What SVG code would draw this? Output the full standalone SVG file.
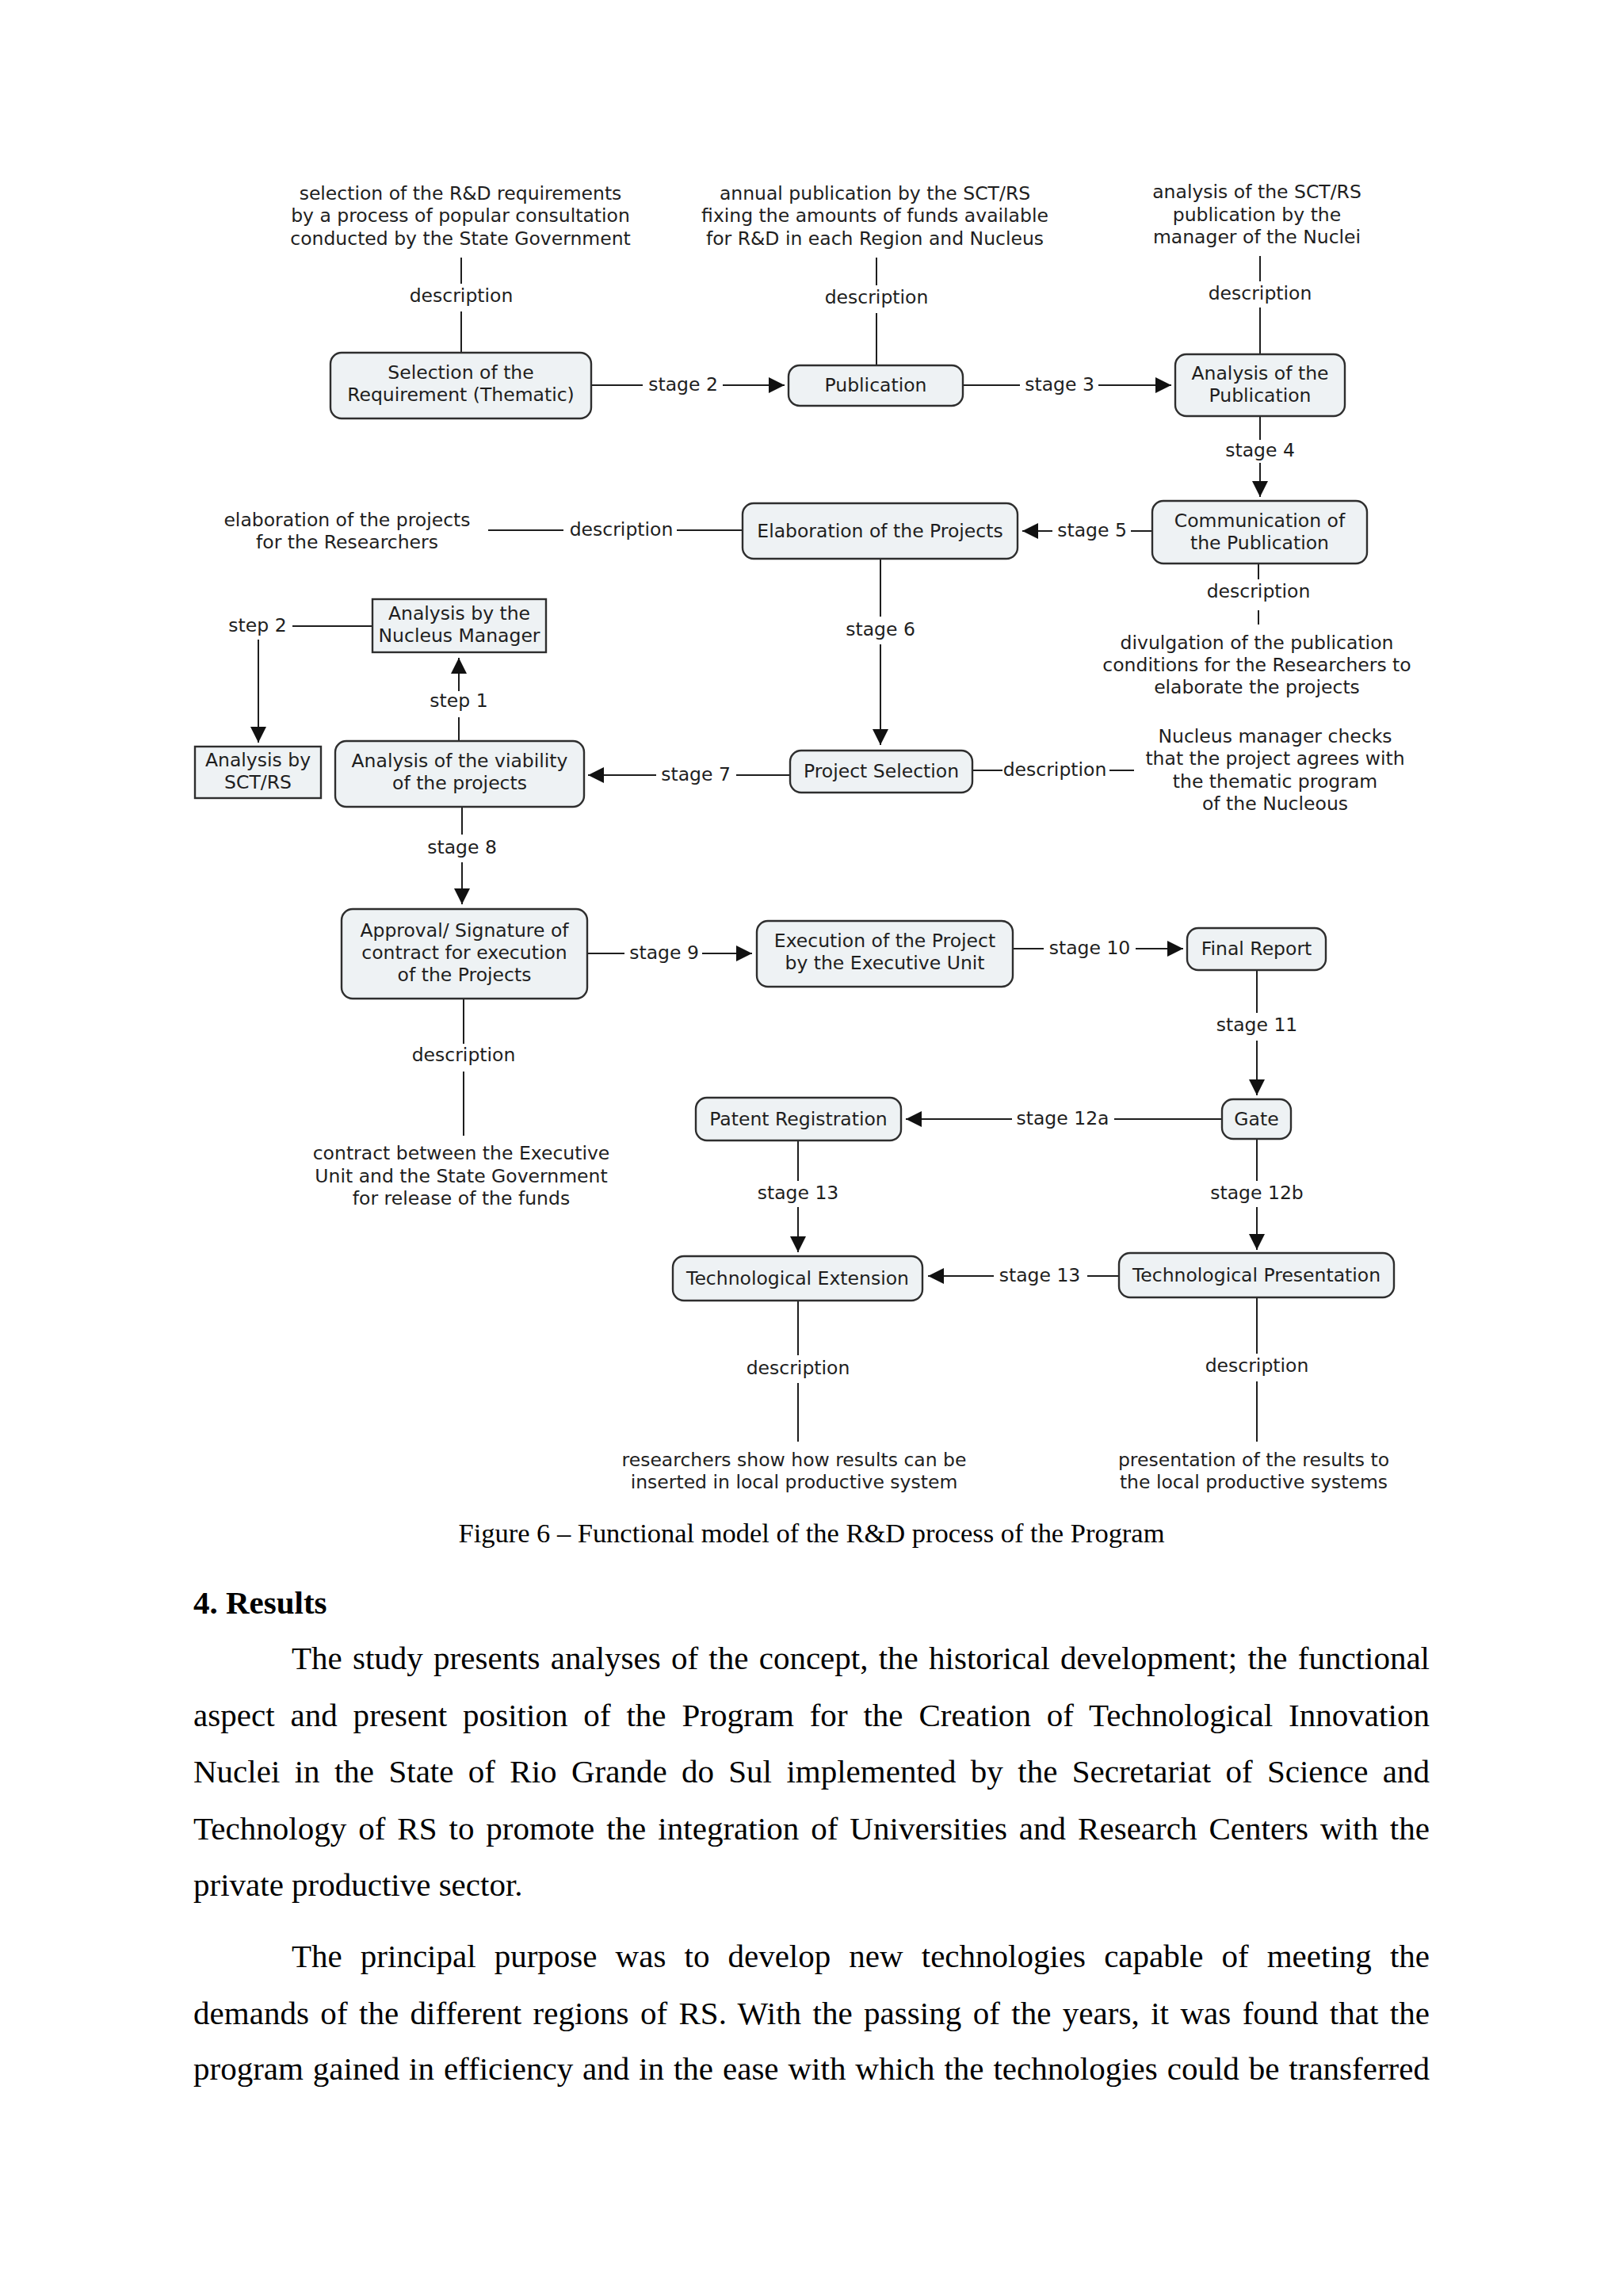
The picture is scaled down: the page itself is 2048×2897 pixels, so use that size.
<svg xmlns="http://www.w3.org/2000/svg" width="2048" height="2897" viewBox="0 0 2048 2897">
<defs>
<style>
.n rect{fill:#eef2f4;stroke:#2e2e2e;stroke-width:2.4}
.t{font-family:"DejaVu Sans",Verdana,sans-serif;font-size:23.5px;fill:#1e1e1e;text-anchor:middle}
.c line{stroke:#1e1e1e;stroke-width:2;fill:none}
.c line.a{marker-end:url(#ah)}
.body{font-family:"Liberation Serif","Times New Roman",serif;font-size:41px;fill:#000}
</style>
<marker id="ah" markerUnits="userSpaceOnUse" markerWidth="20" markerHeight="20" refX="20" refY="10" orient="auto">
<path d="M0,0 L20,10 L0,20 z" fill="#111"/>
</marker>
</defs>
<rect width="2048" height="2897" fill="#fff"/>

<g id="connectors" class="c">
<line x1="582" y1="325" x2="582" y2="358"/><line x1="582" y1="393" x2="582" y2="445"/>
<line x1="1106" y1="325" x2="1106" y2="360"/><line x1="1106" y1="395" x2="1106" y2="461"/>
<line x1="1590" y1="323" x2="1590" y2="355"/><line x1="1590" y1="388" x2="1590" y2="447"/>
<line x1="746" y1="486" x2="811" y2="486"/><line class="a" x1="912" y1="486" x2="990" y2="486"/>
<line x1="1215" y1="486" x2="1287" y2="486"/><line class="a" x1="1386" y1="486" x2="1478" y2="486"/>
<line x1="1590" y1="525" x2="1590" y2="555"/><line class="a" x1="1590" y1="584" x2="1590" y2="627"/>
<line x1="1454" y1="670" x2="1427" y2="670"/><line class="a" x1="1328" y1="670" x2="1290" y2="670"/>
<line x1="937" y1="669" x2="854" y2="669"/><line x1="711" y1="669" x2="616" y2="669"/>
<line x1="1588" y1="711" x2="1588" y2="731"/><line x1="1588" y1="770" x2="1588" y2="788"/>
<line x1="1111" y1="705" x2="1111" y2="778"/><line class="a" x1="1111" y1="813" x2="1111" y2="940"/>
<line x1="1227" y1="972" x2="1265" y2="972"/><line x1="1400" y1="972" x2="1431" y2="972"/>
<line x1="997" y1="978" x2="929" y2="978"/><line class="a" x1="828" y1="978" x2="742" y2="978"/>
<line x1="579" y1="935" x2="579" y2="905"/><line class="a" x1="579" y1="872" x2="579" y2="830"/>
<line x1="470" y1="790" x2="369" y2="790"/><line class="a" x1="326" y1="807" x2="326" y2="937"/>
<line x1="583" y1="1018" x2="583" y2="1053"/><line class="a" x1="583" y1="1088" x2="583" y2="1141"/>
<line x1="741" y1="1203" x2="788" y2="1203"/><line class="a" x1="886" y1="1203" x2="949" y2="1203"/>
<line x1="1278" y1="1197" x2="1317" y2="1197"/><line class="a" x1="1433" y1="1197" x2="1493" y2="1197"/>
<line x1="1586" y1="1224" x2="1586" y2="1278"/><line class="a" x1="1586" y1="1313" x2="1586" y2="1382"/>
<line x1="1542" y1="1412" x2="1406" y2="1412"/><line class="a" x1="1277" y1="1412" x2="1143" y2="1412"/>
<line x1="1007" y1="1439" x2="1007" y2="1490"/><line class="a" x1="1007" y1="1523" x2="1007" y2="1580"/>
<line x1="1586" y1="1437" x2="1586" y2="1490"/><line class="a" x1="1586" y1="1523" x2="1586" y2="1577"/>
<line x1="1412" y1="1610" x2="1372" y2="1610"/><line class="a" x1="1254" y1="1610" x2="1171" y2="1610"/>
<line x1="1007" y1="1641" x2="1007" y2="1710"/><line x1="1007" y1="1745" x2="1007" y2="1819"/>
<line x1="1586" y1="1637" x2="1586" y2="1708"/><line x1="1586" y1="1743" x2="1586" y2="1819"/>
<line x1="585" y1="1260" x2="585" y2="1317"/><line x1="585" y1="1352" x2="585" y2="1433"/>
<g class="t">
<text x="582" y="381">description</text>
<text x="1106" y="383">description</text>
<text x="1590" y="378">description</text>
<text x="862" y="493">stage 2</text>
<text x="1337" y="493">stage 3</text>
<text x="1590" y="576">stage 4</text>
<text x="1378" y="677">stage 5</text>
<text x="784" y="676">description</text>
<text x="1588" y="754">description</text>
<text x="1111" y="802">stage 6</text>
<text x="1331" y="979">description</text>
<text x="878" y="985">stage 7</text>
<text x="579" y="892">step 1</text>
<text x="325" y="797">step 2</text>
<text x="583" y="1077">stage 8</text>
<text x="838" y="1210">stage 9</text>
<text x="1375" y="1204">stage 10</text>
<text x="1586" y="1301">stage 11</text>
<text x="1341" y="1419">stage 12a</text>
<text x="1007" y="1513">stage 13</text>
<text x="1586" y="1513">stage 12b</text>
<text x="1312" y="1617">stage 13</text>
<text x="1007" y="1734">description</text>
<text x="1586" y="1731">description</text>
<text x="585" y="1339">description</text>
</g>
</g>

<g id="n-selection" class="n"><rect x="417" y="445" width="329" height="83" rx="14"/><text class="t" x="581.5" y="478">Selection of the</text><text class="t" x="581.5" y="506">Requirement (Thematic)</text></g>
<g id="n-publication" class="n"><rect x="995" y="461" width="220" height="51" rx="14"/><text class="t" x="1105" y="494">Publication</text></g>
<g id="n-analysis-publication" class="n"><rect x="1483" y="447" width="214" height="78" rx="14"/><text class="t" x="1590" y="479">Analysis of the</text><text class="t" x="1590" y="507">Publication</text></g>
<g id="n-communication" class="n"><rect x="1454" y="632" width="271" height="79" rx="14"/><text class="t" x="1589.5" y="665">Communication of</text><text class="t" x="1589.5" y="693">the Publication</text></g>
<g id="n-elaboration" class="n"><rect x="937" y="635" width="347" height="70" rx="14"/><text class="t" x="1110.5" y="678">Elaboration of the Projects</text></g>
<g id="n-project-selection" class="n"><rect x="997" y="947" width="230" height="53" rx="14"/><text class="t" x="1112" y="981">Project Selection</text></g>
<g id="n-viability" class="n"><rect x="423" y="935" width="314" height="83" rx="14"/><text class="t" x="580" y="968">Analysis of the viability</text><text class="t" x="580" y="996">of the projects</text></g>
<g id="n-nucleus-manager" class="n"><rect x="470" y="756" width="219" height="67"/><text class="t" x="579.5" y="782">Analysis by the</text><text class="t" x="579.5" y="810">Nucleus Manager</text></g>
<g id="n-sct-rs" class="n"><rect x="246" y="942" width="159" height="65"/><text class="t" x="325.5" y="967">Analysis by</text><text class="t" x="325.5" y="995">SCT/RS</text></g>
<g id="n-approval" class="n"><rect x="431" y="1147" width="310" height="113" rx="14"/><text class="t" x="586" y="1182">Approval/ Signature of</text><text class="t" x="586" y="1210">contract for execution</text><text class="t" x="586" y="1238">of the Projects</text></g>
<g id="n-execution" class="n"><rect x="955" y="1162" width="323" height="83" rx="14"/><text class="t" x="1116.5" y="1195">Execution of the Project</text><text class="t" x="1116.5" y="1223">by the Executive Unit</text></g>
<g id="n-final-report" class="n"><rect x="1498" y="1171" width="175" height="53" rx="14"/><text class="t" x="1585.5" y="1205">Final Report</text></g>
<g id="n-gate" class="n"><rect x="1542" y="1387" width="87" height="50" rx="14"/><text class="t" x="1585.5" y="1420">Gate</text></g>
<g id="n-patent" class="n"><rect x="878" y="1385" width="259" height="54" rx="14"/><text class="t" x="1007.5" y="1420">Patent Registration</text></g>
<g id="n-tech-extension" class="n"><rect x="849" y="1585" width="315" height="56" rx="14"/><text class="t" x="1006.5" y="1621">Technological Extension</text></g>
<g id="n-tech-presentation" class="n"><rect x="1412" y="1581" width="347" height="56" rx="14"/><text class="t" x="1585.5" y="1617">Technological Presentation</text></g>

<g id="d-selection" class="t"><text x="581" y="252">selection of the R&amp;D requirements</text><text x="581" y="280">by a process of popular consultation</text><text x="581" y="309">conducted by the State Government</text></g>
<g id="d-publication" class="t"><text x="1104" y="252">annual publication by the SCT/RS</text><text x="1104" y="280">fixing the amounts of funds available</text><text x="1104" y="309">for R&amp;D in each Region and Nucleus</text></g>
<g id="d-analysis" class="t"><text x="1586" y="250">analysis of the SCT/RS</text><text x="1586" y="279">publication by the</text><text x="1586" y="307">manager of the Nuclei</text></g>
<g id="d-elaboration" class="t"><text x="438" y="664">elaboration of the projects</text><text x="438" y="692">for the Researchers</text></g>
<g id="d-communication" class="t"><text x="1586" y="819">divulgation of the publication</text><text x="1586" y="847">conditions for the Researchers to</text><text x="1586" y="875">elaborate the projects</text></g>
<g id="d-project-selection" class="t"><text x="1609" y="937">Nucleus manager checks</text><text x="1609" y="965">that the project agrees with</text><text x="1609" y="994">the thematic program</text><text x="1609" y="1022">of the Nucleous</text></g>
<g id="d-approval" class="t"><text x="582" y="1463">contract between the Executive</text><text x="582" y="1492">Unit and the State Government</text><text x="582" y="1520">for release of the funds</text></g>
<g id="d-tech-extension" class="t"><text x="1002" y="1850">researchers show how results can be</text><text x="1002" y="1878">inserted in local productive system</text></g>
<g id="d-tech-presentation" class="t"><text x="1582" y="1850">presentation of the results to</text><text x="1582" y="1878">the local productive systems</text></g>

<text x="1024" y="1946" font-family="Liberation Serif,'Times New Roman',serif" font-size="34.5" text-anchor="middle" textLength="891" lengthAdjust="spacing">Figure 6 – Functional model of the R&amp;D process of the Program</text>

<g id="body-text" class="body">
<text x="244" y="2036" font-weight="bold">4. Results</text>
<text x="368" y="2106" word-spacing="3" textLength="1436" lengthAdjust="spacing">The study presents analyses of the concept, the historical development; the functional</text>
<text x="244" y="2178" word-spacing="9.5" textLength="1560" lengthAdjust="spacing">aspect and present position of the Program for the Creation of Technological Innovation</text>
<text x="244" y="2249" word-spacing="8.1" textLength="1560" lengthAdjust="spacing">Nuclei in the State of Rio Grande do Sul implemented by the Secretariat of Science and</text>
<text x="244" y="2321" word-spacing="4.6" textLength="1560" lengthAdjust="spacing">Technology of RS to promote the integration of Universities and Research Centers with the</text>
<text x="244" y="2392">private productive sector.</text>
<text x="368" y="2482" word-spacing="12.8" textLength="1436" lengthAdjust="spacing">The principal purpose was to develop new technologies capable of meeting the</text>
<text x="244" y="2554" word-spacing="4.1" textLength="1560" lengthAdjust="spacing">demands of the different regions of RS. With the passing of the years, it was found that the</text>
<text x="244" y="2624" word-spacing="1.6" textLength="1560" lengthAdjust="spacing">program gained in efficiency and in the ease with which the technologies could be transferred</text>
</g>
</svg>
